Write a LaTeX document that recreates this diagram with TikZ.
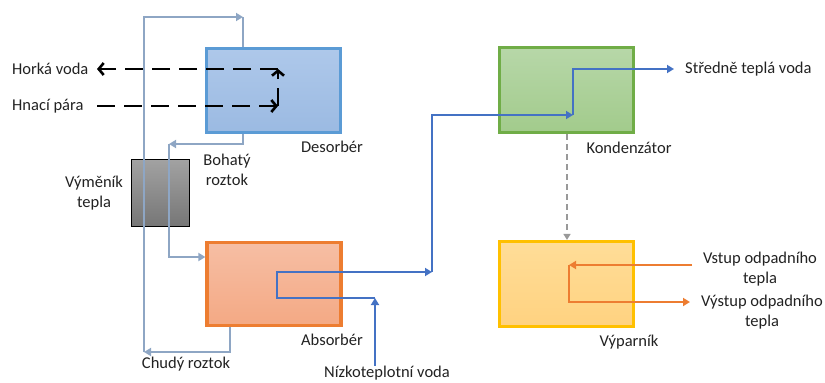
\documentclass[tikz,border=0pt]{standalone}
\usepackage{fontspec}
\setmainfont{Carlito}
\usetikzlibrary{arrows.meta}
\definecolor{pipec}{HTML}{8EA6C4}
\definecolor{waterc}{HTML}{4472C4}
\definecolor{heatc}{HTML}{ED7D31}
\definecolor{txtc}{HTML}{222222}
\definecolor{desb}{HTML}{5B9BD5}
\definecolor{dest}{HTML}{AEC8EA}
\definecolor{desbot}{HTML}{9BBAE2}
\definecolor{abst}{HTML}{F6BEA4}
\definecolor{absbot}{HTML}{F4A984}
\definecolor{konb}{HTML}{70AD47}
\definecolor{kont}{HTML}{B7D7A8}
\definecolor{konbot}{HTML}{A2CB8C}
\definecolor{vypb}{HTML}{FFC000}
\definecolor{vypt}{HTML}{FFDD98}
\definecolor{vypbot}{HTML}{FFD280}
\definecolor{vymt}{HTML}{A2A2A2}
\definecolor{vymbot}{HTML}{767676}
\tikzset{
  box/.style={line width=3.2pt, minimum width=134pt, minimum height=84pt, inner sep=0pt},
  lbl/.style={text=txtc, inner sep=0pt, align=center},
  pipeline/.style={draw=pipec, line width=2.6pt},
  waterline/.style={draw=waterc, line width=2.6pt},
  heatline/.style={draw=heatc, line width=2.4pt},
  steamline/.style={draw=black, line width=2.6pt, dash pattern=on 18pt off 9pt},
  condline/.style={draw=black!40, line width=2pt, dash pattern=on 6pt off 4pt},
  tip/.style={-{Triangle[length=7pt,width=8pt]}},
  barb/.style={-{Straight Barb[length=5pt,width=12pt,line width=2.6pt]}}
}
\begin{document}
\begin{tikzpicture}[x=1pt,y=-1pt, font=\fontsize{16.5}{20.5}\selectfont]
\useasboundingbox (0,0) rectangle (825,383);

% boxes
\node[box, draw=desb, top color=dest, bottom color=desbot] (des) at (273.5,90.5) {};
\node[box, minimum height=83pt, draw=heatc, top color=abst, bottom color=absbot] (abs) at (274,284) {};
\node[box, minimum height=85pt, draw=konb, top color=kont, bottom color=konbot] (kon) at (566.5,90) {};
\node[box, minimum height=85pt, draw=vypb, top color=vypt, bottom color=vypbot] (vyp) at (566.5,284) {};
\node[line width=1.6pt, draw=black, minimum width=58pt, minimum height=67pt, inner sep=0pt, top color=vymt, bottom color=vymbot] (vym) at (160.5,193) {};

% labels
\node[lbl] (desl) at (332,147) {Desorbér};
\node[lbl] (absl) at (332,340) {Absorbér};
\node[lbl] (konl) at (629,148) {Kondenzátor};
\node[lbl] (vypl) at (629,342) {Výparník};
\node[lbl] (vyml) at (94,193) {Výměník\\tepla};
\node[lbl] (boh) at (227,170) {Bohatý\\roztok};
\node[lbl] (chud) at (186,364) {Chudý roztok};
\node[lbl, anchor=west] (hork) at (12,69) {Horká voda};
\node[lbl, anchor=west] (hnac) at (12,106) {Hnací pára};
\node[lbl, anchor=west] (stred) at (685,69) {Středně teplá voda};
\node[lbl] (niz) at (387,373) {Nízkoteplotní voda};
\node[lbl] (vstup) at (760,269) {Vstup odpadního\\tepla};
\node[lbl] (vystup) at (762,312) {Výstup odpadního\\tepla};

% lean solution loop (absorber -> desorber)
\coordinate (l1) at (230,352);
\coordinate (l2) at (144,352);
\coordinate (l3) at (144,17);
\coordinate (l4) at (243,17);
\draw[pipeline, tip] (abs.south -| l1) -- (l1) -- (l2);
\draw[pipeline, tip] (l2) -- (l3) -- (l4);
\draw[pipeline] (l4) -- (des.north -| l4);

% rich solution (desorber -> absorber)
\coordinate (r1) at (243,144);
\coordinate (r2) at (169,144);
\coordinate (r3) at (169,257);
\draw[pipeline, tip] (des.south -| r1) -- (r1) -- (r2);
\draw[pipeline, tip] (r2) -- (r3) -- (abs.west |- r3);

% driving steam / hot water
\coordinate (s0) at (97,106);
\coordinate (s1) at (278,106);
\coordinate (s2) at (278,69);
\coordinate (s3) at (97,69);
\draw[steamline, barb] (s0) -- (s1);
\draw[steamline, barb] (s1) -- (s2);
\draw[steamline, barb] (s2) -- (s3);

% cooling water
\coordinate (w1) at (375,298);
\coordinate (w2) at (277,298);
\coordinate (w3) at (277,272);
\coordinate (w4) at (432,272);
\coordinate (w5) at (432,115);
\coordinate (w6) at (573,115);
\coordinate (w7) at (573,69);
\draw[waterline, tip] (niz.north -| w1) -- (w1);
\draw[waterline, tip] (w1) -- (w2) -- (w3) -- (w4);
\draw[waterline, tip] (w4) -- (w5) -- (w6);
\draw[waterline, tip, shorten >=11pt] (w6) -- (w7) -- (stred.west);

% condensate
\coordinate (c1) at (567,0);
\draw[condline, -{Triangle[length=6pt,width=7pt]}] (kon.south -| c1) -- (vyp.north -| c1);

% waste heat
\coordinate (o0) at (692,265);
\coordinate (o1) at (569,265);
\coordinate (o2) at (569,302);
\coordinate (o3) at (690,302);
\draw[heatline, tip] (o0) -- (o1);
\draw[heatline, tip] (o1) -- (o2) -- (o3);
\end{tikzpicture}
\end{document}
